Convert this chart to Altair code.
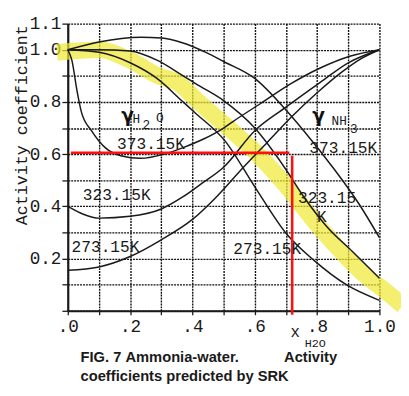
import altair as alt
import pandas as pd

# ---- curve data (x = mole fraction of H2O) ----
h2o_373_x = [0.0, 0.013, 0.03, 0.044, 0.076, 0.12, 0.17, 0.233, 0.31, 0.37, 0.434, 0.5, 0.53, 0.62, 0.716, 0.81, 0.905, 1.0]
h2o_373_y = [1.0, 0.96, 0.84, 0.76, 0.69, 0.625, 0.594, 0.584, 0.60, 0.625, 0.657, 0.70, 0.725, 0.795, 0.87, 0.93, 0.975, 1.0]

h2o_323_x = [0.0, 0.05, 0.1, 0.2, 0.3, 0.37, 0.43, 0.5, 0.6, 0.7, 0.81, 0.9, 1.0]
h2o_323_y = [0.40, 0.37, 0.355, 0.362, 0.39, 0.437, 0.488, 0.55, 0.69, 0.78, 0.875, 0.95, 1.0]

h2o_273_x = [0.0, 0.1, 0.2, 0.3, 0.4, 0.48, 0.56, 0.64, 0.72, 0.8, 0.88, 0.94, 1.0]
h2o_273_y = [0.155, 0.168, 0.208, 0.272, 0.35, 0.44, 0.545, 0.645, 0.745, 0.835, 0.915, 0.965, 1.0]

nh3_373_x = [0.0, 0.1, 0.235, 0.3, 0.37, 0.443, 0.5, 0.6, 0.695, 0.757, 0.85, 0.934, 1.0]
nh3_373_y = [1.0, 1.03, 1.048, 1.045, 1.026, 0.99, 0.955, 0.89, 0.776, 0.69, 0.55, 0.41, 0.28]

nh3_323_x = [0.0, 0.1, 0.2, 0.286, 0.37, 0.41, 0.5, 0.6, 0.695, 0.757, 0.83, 0.915, 1.0]
nh3_323_y = [1.0, 1.0, 0.995, 0.96, 0.90, 0.87, 0.805, 0.70, 0.55, 0.437, 0.324, 0.225, 0.125]

nh3_273_x = [0.0, 0.1, 0.2, 0.286, 0.37, 0.41, 0.505, 0.6, 0.705, 0.79, 0.895, 1.0]
nh3_273_y = [1.0, 0.99, 0.95, 0.89, 0.80, 0.757, 0.65, 0.475, 0.29, 0.193, 0.099, 0.04]

# yellow highlighter stroke
band_x = [-0.035, 0.1, 0.2, 0.29, 0.35, 0.42, 0.516, 0.6, 0.7, 0.78, 0.86, 0.955, 1.02, 1.075]
band_y = [0.99, 1.0, 0.96, 0.90, 0.876, 0.80, 0.70, 0.61, 0.48, 0.36, 0.25, 0.135, 0.075, 0.02]

# red read-off lines
red_h_x = [0.01, 0.711]
red_h_y = [0.605, 0.605]
red_v_x = [0.72, 0.72]
red_v_y = [0.594, -0.015]

# axis ticks / labels
x_ticks = [0.0, 0.1, 0.2, 0.3, 0.4, 0.5, 0.6, 0.7, 0.8, 0.9, 1.0]
x_tick_labels = [".0", "", ".2", "", ".4", "", ".6", "", ".8", "", "1.0"]
y_ticks = [0.0, 0.1, 0.2, 0.3, 0.4, 0.5, 0.6, 0.7, 0.8, 0.9, 1.0, 1.1]
y_tick_labels = ["", "", "0.2", "", "0.4", "", "0.6", "", "0.8", "", "1.0", "1.1"]

# in-plot temperature labels
lab_text = ["373.15K", "323.15K", "273.15K", "373.15K", "323.15", "K", "273.15K"]
lab_x = [0.267, 0.157, 0.121, 0.884, 0.832, 0.815, 0.64]
lab_y = [0.64, 0.444, 0.245, 0.625, 0.432, 0.36, 0.237]

# gamma symbols and their subscripts
gamma_text = ["γ", "γ"]
gamma_x = [0.192, 0.805]
gamma_y = [0.744, 0.744]
sub_text = ["H", "2", "O", "NH", "3"]
sub_x = [0.22, 0.252, 0.295, 0.871, 0.918]
sub_y = [0.733, 0.712, 0.737, 0.726, 0.695]

# axis title pieces
xt_text = ["x", "H2O"]
xt_x = [0.73, 0.76]
xt_y = [-0.08, -0.123]
yt_text = ["Activity coefficient"]
yt_x = [-0.148]
yt_y = [0.711]

# caption
cap_text = ["FIG. 7", "Ammonia-water.", "Activity", "coefficients predicted by SRK"]
cap_x = [0.041, 0.185, 0.694, 0.041]
cap_y = [-0.179, -0.179, -0.179, -0.252]

# ---- build tables ----
rows = []
for name, xs, ys in [
    ("h2o_373", h2o_373_x, h2o_373_y),
    ("h2o_323", h2o_323_x, h2o_323_y),
    ("h2o_273", h2o_273_x, h2o_273_y),
    ("nh3_373", nh3_373_x, nh3_373_y),
    ("nh3_323", nh3_323_x, nh3_323_y),
    ("nh3_273", nh3_273_x, nh3_273_y),
]:
    for i, (a, b) in enumerate(zip(xs, ys)):
        rows.append({"curve": name, "i": i, "x": a, "y": b})
curves = pd.DataFrame(rows)

band = pd.DataFrame({"x": band_x, "y": band_y, "i": range(len(band_x))})
red = pd.DataFrame({
    "x": red_h_x + red_v_x,
    "y": red_h_y + red_v_y,
    "seg": ["h", "h", "v", "v"],
    "i": [0, 1, 0, 1],
})
labels = pd.DataFrame({"x": lab_x, "y": lab_y, "t": lab_text})
gammas = pd.DataFrame({"x": gamma_x, "y": gamma_y, "t": gamma_text})
subs = pd.DataFrame({"x": sub_x, "y": sub_y, "t": sub_text})
caps = pd.DataFrame({"x": cap_x, "y": cap_y, "t": cap_text})
xt_a = pd.DataFrame({"x": xt_x[:1], "y": xt_y[:1], "t": xt_text[:1]})
xt_b = pd.DataFrame({"x": xt_x[1:], "y": xt_y[1:], "t": xt_text[1:]})
ytd = pd.DataFrame({"x": yt_x, "y": yt_y, "t": yt_text})

xs_ = alt.Scale(domain=[0, 1], nice=False, zero=False)
ys_ = alt.Scale(domain=[0, 1.1], nice=False, zero=False)


def arr(lst):
    return "[" + ",".join("'" + s + "'" for s in lst) + "]"


ink = "#1a1a1a"
common = dict(grid=True, gridColor="#111", gridWidth=1.4, gridDash=[2, 1], gridOpacity=1,
              domain=True, domainColor=ink, domainWidth=2.2, ticks=True, tickColor=ink,
              tickWidth=1.3, labelFont="Liberation Mono", labelFontSize=18,
              labelColor="#1a1a1a", labelOverlap=False, title=None, labelFlush=False)
x_axis = alt.Axis(values=x_ticks, labelExpr=arr(x_tick_labels) + "[round(datum.value*10)]",
                  tickSize=4, labelPadding=3, **common)
y_axis = alt.Axis(values=y_ticks, labelExpr=arr(y_tick_labels) + "[round(datum.value*10)]",
                  tickSize=6, labelPadding=1, **common)

X = alt.X("x:Q", scale=xs_, axis=x_axis)
Y = alt.Y("y:Q", scale=ys_, axis=y_axis)

band_layer = alt.Chart(band).mark_line(
    interpolate="monotone", color="#f0e830", opacity=0.7, strokeWidth=17, clip=False, strokeCap="butt"
).encode(x=X, y=Y, order="i:Q")

curve_layer = alt.Chart(curves).mark_line(
    interpolate="monotone", color=ink, strokeWidth=1.5, clip=False
).encode(x=X, y=Y, detail="curve:N", order="i:Q")

red_layer = alt.Chart(red).mark_line(color="#ff1010", strokeWidth=2.6, clip=False).encode(
    x=X, y=Y, detail="seg:N", order="i:Q")


def txt(df, **kw):
    return alt.Chart(df).mark_text(clip=False, baseline="middle", **kw).encode(x=X, y=Y, text="t:N")


label_layer = txt(labels, font="Liberation Mono", fontSize=16.5, color="#1a1a1a", align="center")
gamma_layer = txt(gammas, font="DejaVu Sans", fontSize=19, fontWeight="bold", color="#111", align="center")
sub_layer = txt(subs, font="Liberation Mono", fontSize=13, color="#1a1a1a", align="center")
ytitle_layer = txt(ytd, font="Liberation Mono", fontSize=17, color="#1a1a1a", angle=270, align="center")
xtitle_a = txt(xt_a, font="Liberation Mono", fontSize=16, color="#1a1a1a", align="center")
xtitle_b = txt(xt_b, font="Liberation Mono", fontSize=12, color="#1a1a1a", align="left")
cap_layer = txt(caps, font="Liberation Sans", fontSize=15, fontWeight="bold", color="#1a1a1a", align="left")

chart = alt.layer(
    band_layer, curve_layer, red_layer, label_layer, gamma_layer, sub_layer,
    ytitle_layer, xtitle_a, xtitle_b, cap_layer
).properties(
    width=318, height=293,
    autosize=alt.AutoSizeParams(type="none"),
    padding={"left": 61, "top": 12, "right": 22, "bottom": 83},
).configure_view(strokeWidth=0)

chart.save("out.html", embed_options={"renderer": "svg", "actions": False})
